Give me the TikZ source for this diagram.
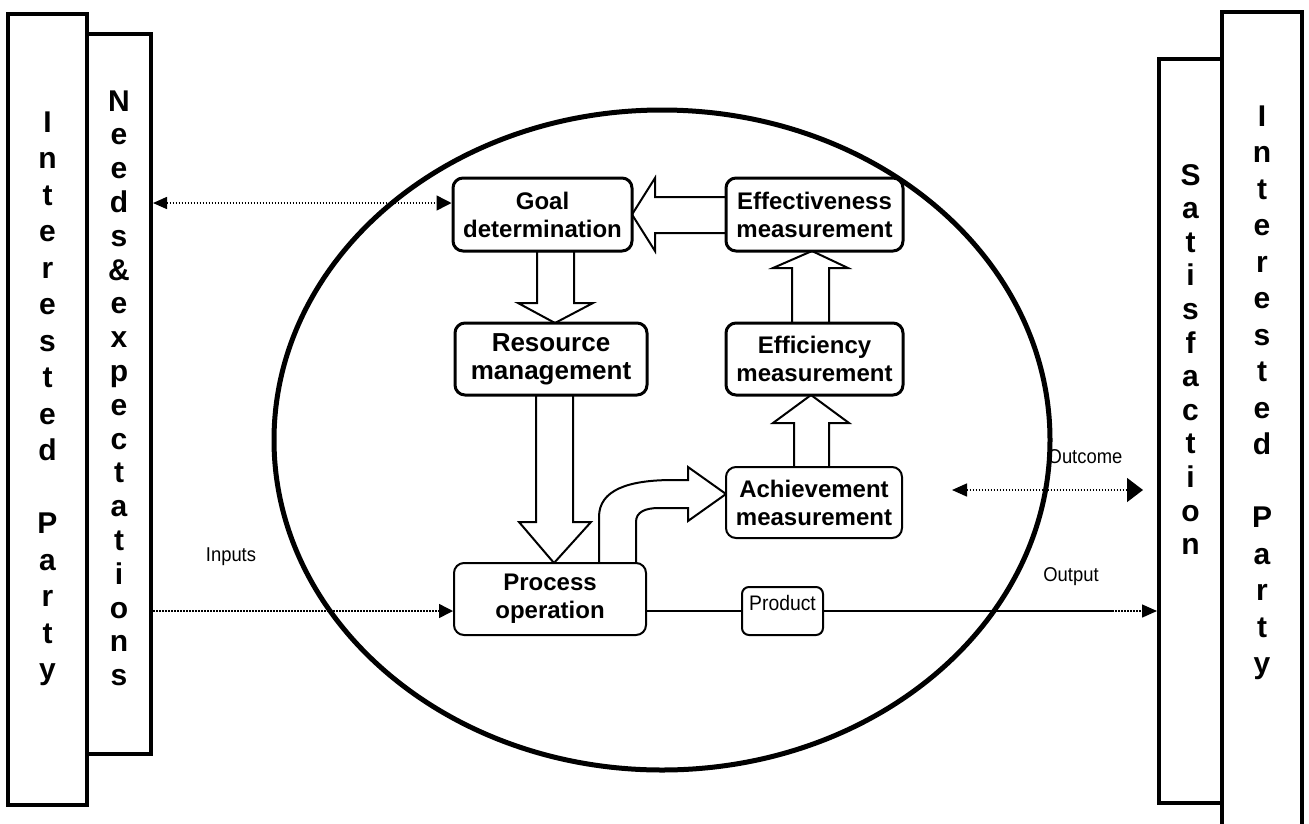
\documentclass[tikz,border=0pt]{standalone}
\usepackage{graphicx}
\usepackage{fontspec}
\setmainfont{Liberation Sans}
\usetikzlibrary{arrows.meta,calc}
\begin{document}
\begin{tikzpicture}[x=1pt,y=-1pt,
  sidebox/.style={draw, line width=4pt, inner sep=0pt, fill=white},
  sidetxt/.style={anchor=base, inner sep=0pt, font=\fontsize{30}{36}\selectfont\bfseries},
  stepbox/.style={draw, line width=3pt, rounded corners=10pt, fill=white, inner sep=0pt,
                  align=center, font=\fontsize{24}{28}\selectfont\bfseries},
  thinbox/.style={stepbox, line width=2pt},
  blockarrow/.style={draw, fill=white, line width=2pt, line join=miter},
  dotline/.style={line width=1.5pt, dash pattern=on 1.5pt off 1.5pt},
  lbl/.style={inner sep=0pt, font=\fontsize{20}{24}\selectfont}
]
\useasboundingbox (0,0) rectangle (1309,823);

% system boundary
\draw[line width=5pt] (662,440) ellipse [x radius=388, y radius=330];

% side columns
\node[sidebox, minimum width=79pt, minimum height=791pt] (ipl) at (47.5,409.5) {};
\node[sidebox, minimum width=64pt, minimum height=720pt] (needs) at (119,394) {};
\node[sidebox, minimum width=80pt, minimum height=828pt] (ipr) at (1262,426) {};
\node[sidebox, minimum width=63pt, minimum height=744pt] (sat) at (1190.5,431) {};

\foreach \c/\k in {I/0,n/1,t/2,e/3,r/4,e/5,s/6,t/7,e/8,d/9,P/11,a/12,r/13,t/14,y/15}
  \node[sidetxt] (ipl-\k) at (47.5,{132+36.5*\k}) {\c};
\foreach \c/\k in {N/0,e/1,e/2,d/3,s/4,\&/5,e/6,x/7,p/8,e/9,c/10,t/11,a/12,t/13,i/14,o/15,n/16,s/17}
  \node[sidetxt] (needs-\k) at (119,{111+33.8*\k}) {\c};
\foreach \c/\k in {S/0,a/1,t/2,i/3,s/4,f/5,a/6,c/7,t/8,i/9,o/10,n/11}
  \node[sidetxt] (sat-\k) at (1190.5,{185+33.6*\k}) {\c};
\foreach \c/\k in {I/0,n/1,t/2,e/3,r/4,e/5,s/6,t/7,e/8,d/9,P/11,a/12,r/13,t/14,y/15}
  \node[sidetxt] (ipr-\k) at (1262,{126+36.5*\k}) {\c};

% block arrows between the steps
\path[blockarrow] (726,197) -- (655,197) -- (655,178) -- (632,214.5) -- (655,251) -- (655,233) -- (726,233) -- cycle;
\path[blockarrow] (537,251) -- (537,303) -- (518,303) -- (555,323) -- (593,303) -- (574,303) -- (574,251) -- cycle;
\path[blockarrow] (536,395) -- (536,522) -- (519,522) -- (554,563) -- (591,522) -- (573,522) -- (573,395) -- cycle;
\path[blockarrow] (792,323) -- (792,268) -- (773,268) -- (812,251) -- (848,268) -- (829,268) -- (829,323) -- cycle;
\path[blockarrow] (794,467) -- (794,423) -- (773,423) -- (811,395) -- (849,423) -- (829,423) -- (829,467) -- cycle;
\path[blockarrow] (599,563) -- (599,517) .. controls (599,490) and (628,480) .. (673,480)
  -- (688,480) -- (688,467) -- (726,494) -- (688,521) -- (688,508) -- (659,508)
  .. controls (645,508) and (636,512) .. (636,522) -- (636,563) -- cycle;

% steps
\node[stepbox, minimum width=179pt, minimum height=73pt] (goal) at (542.5,214.5) {Goal\\determination};
\node[stepbox, minimum width=177pt, minimum height=73pt] (effect) at (814.5,214.5) {Effectiveness\\measurement};
\node[stepbox, minimum width=192pt, minimum height=72pt, font=\fontsize{26}{28}\selectfont\bfseries] (res) at (551,359) {Resource\\management};
\node[stepbox, minimum width=177pt, minimum height=72pt] (effic) at (814.5,359) {Efficiency\\measurement};
\node[thinbox, minimum width=176pt, minimum height=71pt] (ach) at (814,502.5) {Achievement\\measurement};
\node[thinbox, minimum width=192pt, minimum height=72pt] (proc) at (550,599) {Process\\operation};
\node[thinbox, rounded corners=7pt, minimum width=81pt, minimum height=48pt, font=\fontsize{21}{24}\selectfont] (prod) at (782.5,611)
  {\raisebox{1pt}[0pt][0pt]{\scalebox{0.92}[1]{Product}}};

% flows
\coordinate (ny) at (0,203);
\draw[dotline, {Triangle[length=14pt,width=12pt]}-{Triangle[length=15pt,width=15pt]}] (needs.east |- ny) -- (goal.west |- ny);
\coordinate (iy) at (0,611);
\draw[dotline, -{Triangle[length=14pt,width=14pt]}] (needs.east |- iy) -- (proc.west |- iy);
\draw[line width=1.5pt] (proc.east |- prod.west) -- (prod.west);
\coordinate (od) at (1112,611);
\draw[line width=1.5pt] (prod.east) -- (od);
\draw[line width=1.5pt, dash pattern=on 2pt off 1pt, -{Triangle[length=15pt,width=13pt]}] (od) -- (sat.west |- od);
\coordinate (oa) at (952,490);
\coordinate (ob) at (1143,490);
\draw[dotline, {Triangle[length=15pt,width=13pt]}-{Triangle[length=16pt,width=24pt]}] (oa) -- (ob);

% flow labels
\node[lbl] (inputs) at (231,557) {\scalebox{0.92}[1]{Inputs}};
\node[lbl] (outcome) at (1085,457) {\scalebox{0.92}[1]{Outcome}};
\node[lbl] (output) at (1071,577) {\scalebox{0.92}[1]{Output}};
\end{tikzpicture}
\end{document}
